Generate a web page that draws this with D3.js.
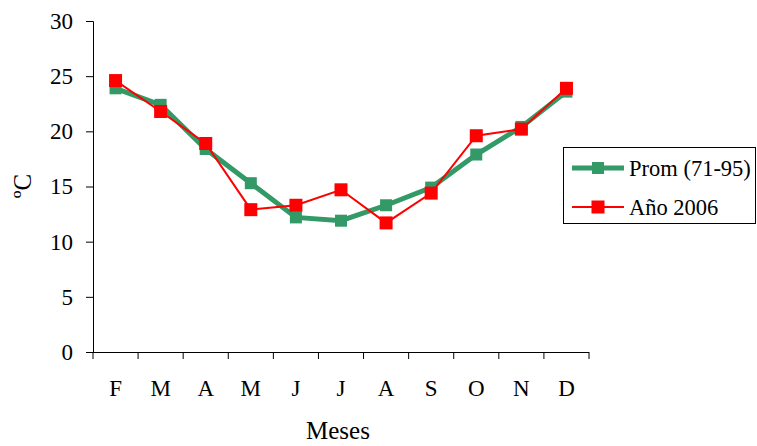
<!DOCTYPE html>
<html><head><meta charset="utf-8">
<script src="https://cdn.jsdelivr.net/npm/d3@7"></script>
<style>body{margin:0;background:#fff}svg{display:block}
svg text{font-family:"Liberation Serif","Times New Roman",serif !important;fill:#000}</style>
</head><body>
<script>
const months = ["F","M","A","M","J","J","A","S","O","N","D"];
const prom = [23.9, 22.4, 18.4, 15.3, 12.2, 11.9, 13.3, 14.9, 17.9, 20.4, 23.6];
const ano2006 = [24.6, 21.8, 18.9, 12.9, 13.3, 14.7, 11.7, 14.4, 19.6, 20.2, 23.9];
const yTicks = [0, 5, 10, 15, 20, 25, 30];
const seriesNames = ["Prom (71-95)", "Año 2006"];

const W = 757, H = 446;
const m = {left: 93, right: 168, top: 21, bottom: 94};
const svg = d3.select("body").append("svg").attr("width", W).attr("height", H);

const x = d3.scaleBand().domain(d3.range(months.length)).range([m.left, 589]);
const y = d3.scaleLinear().domain([0, 30]).range([352, 21]);

// axes
const yAxis = svg.append("g").attr("transform", `translate(${m.left},0)`)
  .call(d3.axisLeft(y).tickValues(yTicks).tickSize(7).tickPadding(13).tickFormat(d3.format("d")));
yAxis.attr("font-size", null);
yAxis.selectAll("text").style("font-size", "23px");
yAxis.selectAll("line,path").attr("stroke", "#000");

const xAxis = svg.append("g").attr("transform", `translate(0,352)`)
  .call(d3.axisBottom(x).tickSize(0).tickFormat(i => months[i]).tickPadding(28));
xAxis.attr("font-size", null);
xAxis.selectAll("text").style("font-size", "23px");
xAxis.select("path").attr("stroke", "#000").attr("d", `M${m.left},0.5H589`);
const bounds = d3.range(months.length + 1).map(i => i < months.length ? x(i) : x(months.length - 1) + x.bandwidth());
xAxis.selectAll(".bt").data(bounds).enter().append("line")
  .attr("x1", d => d).attr("x2", d => d).attr("y1", 0).attr("y2", 7).attr("stroke", "#000");

// titles
svg.append("text").attr("x", 338).attr("y", 439).attr("text-anchor", "middle")
  .style("font-size", "25px").text("Meses");
svg.append("text").attr("transform", "translate(31,186) rotate(-90)").attr("text-anchor", "middle")
  .style("font-size", "25px").text("ºC");

const cx = i => x(i) + x.bandwidth() / 2;
const line = d3.line().x((d, i) => cx(i)).y(d => y(d));

const series = [
  {name: seriesNames[0], data: prom, color: "#339966", width: 5, size: 12},
  {name: seriesNames[1], data: ano2006, color: "#ff0000", width: 2, size: 13}
];
series.forEach(s => {
  svg.append("path").datum(s.data).attr("d", line).attr("fill", "none")
    .attr("stroke", s.color).attr("stroke-width", s.width);
  svg.selectAll(null).data(s.data).enter().append("rect")
    .attr("x", (d, i) => cx(i) - s.size / 2).attr("y", d => y(d) - s.size / 2)
    .attr("width", s.size).attr("height", s.size).attr("fill", s.color);
});

// legend
const lg = svg.append("g");
lg.append("rect").attr("x", 563.5).attr("y", 147.5).attr("width", 192).attr("height", 76)
  .attr("fill", "#fff").attr("stroke", "#000");
series.forEach((s, k) => {
  const ly = 168 + k * 39;
  lg.append("line").attr("x1", 572).attr("x2", 624).attr("y1", ly).attr("y2", ly)
    .attr("stroke", s.color).attr("stroke-width", s.width);
  lg.append("rect").attr("x", 598 - s.size / 2).attr("y", ly - s.size / 2)
    .attr("width", s.size).attr("height", s.size).attr("fill", s.color);
  lg.append("text").attr("x", 629).attr("y", ly + 8)
    .style("font-size", "22.5px").text(s.name);
});
</script>
</body></html>
